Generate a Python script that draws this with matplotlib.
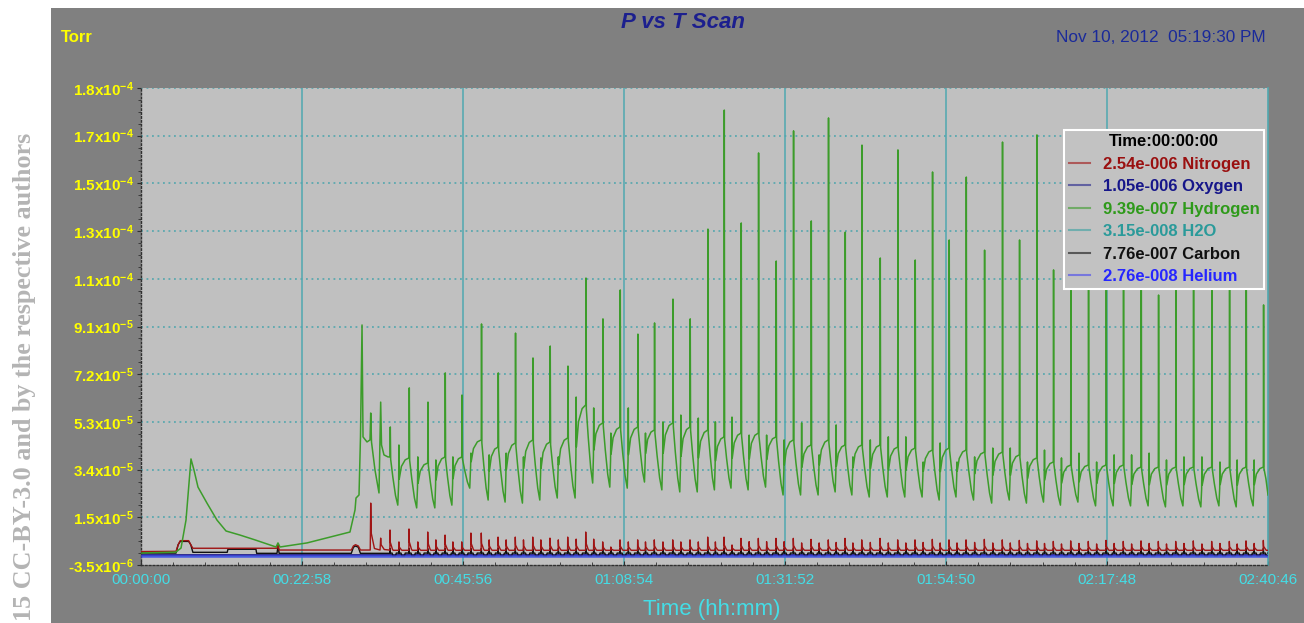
import numpy as np
import matplotlib
matplotlib.use("Agg")
import matplotlib.pyplot as plt
from matplotlib.patches import Rectangle

plt.rcParams['font.family'] = ['Liberation Sans', 'DejaVu Sans']
plt.rcParams['mathtext.fontset'] = 'custom'
plt.rcParams['mathtext.rm'] = 'Liberation Sans:bold'
plt.rcParams['mathtext.default'] = 'rm'

# ---------------- data (time in minutes, pressure in 1e-6 Torr) ----------------
xtick_labels = ["00:00:00", "00:22:58", "00:45:56", "01:08:54",
                "01:31:52", "01:54:50", "02:17:48", "02:40:46"]
ytick_labels = ["-3.5x$10^{-6}$", "1.5x$10^{-5}$", "3.4x$10^{-5}$", "5.3x$10^{-5}$",
                "7.2x$10^{-5}$", "9.1x$10^{-5}$", "1.1x$10^{-4}$", "1.3x$10^{-4}$",
                "1.5x$10^{-4}$", "1.7x$10^{-4}$", "1.8x$10^{-4}$"]
y_min, y_max = -3.5e-6, 1.845e-4
t_end = 160.767

# Hydrogen: start-up part
h2_init_t = [0.00, 4.99, 5.71, 6.42, 7.13, 7.56, 8.13, 9.41, 10.84, 12.13, 14.12, 16.26,
             19.26, 19.54, 19.83, 23.68, 29.81, 30.53, 30.67, 31.10, 31.31, 31.53, 31.67,
             32.24, 32.67, 32.77, 32.88, 33.38, 33.95, 34.19, 34.31, 34.66, 35.23]
h2_init_v = [1.2, 1.6, 3.2, 14.2, 38.3, 33.9, 27.2, 20.9, 14.2, 9.9, 8.3, 6.4,
             3.6, 5.2, 3.6, 5.2, 9.5, 18.2, 22.9, 24.1, 47.0, 91.1, 47.0,
             45.0, 45.8, 56.4, 45.0, 33.9, 24.9, 60.7, 43.8, 39.9, 39.1]
# Hydrogen: pump cycles (time of main burst, burst peak, trough, small burst, level before burst)
cyc_t = [35.52, 38.23, 40.90, 43.37, 45.75, 48.54, 50.93, 53.39, 55.88, 58.34,
         60.87, 63.44, 65.86, 68.33, 70.85, 73.22, 75.85, 78.31, 80.84, 83.17,
         85.59, 88.06, 90.58, 93.05, 95.58, 98.04, 100.43, 102.81, 105.42, 107.94,
         110.41, 112.88, 115.26, 117.69, 120.30, 122.86, 125.29, 127.77, 130.14, 132.62,
         135.13, 137.66, 140.12, 142.65, 145.12, 147.60, 150.11, 152.73, 155.25, 157.63,
         160.10]
cyc_peak = [50.9, 66.3, 60.7, 72.2, 63.5, 91.5, 72.2, 87.9, 78.1, 82.8,
            74.9, 109.6, 93.5, 104.9, 87.5, 91.9, 101.3, 93.5, 128.9, 175.8,
            131.3, 158.9, 116.3, 167.6, 132.1, 172.7, 127.7, 162.0, 117.5, 160.1,
            116.7, 151.4, 124.6, 149.4, 120.6, 163.2, 124.6, 166.0, 112.8, 134.4,
            124.6, 140.4, 128.5, 136.4, 102.9, 132.5, 124.6, 136.4, 120.6, 128.5,
            99.0]
cyc_trough = [20.1, 19.0, 19.0, 20.1, 26.8, 22.1, 21.3, 20.9, 22.1, 22.9,
              22.9, 28.8, 27.2, 26.8, 29.2, 26.1, 25.3, 25.3, 26.1, 26.8,
              26.1, 27.2, 24.1, 24.1, 24.1, 25.3, 24.1, 23.3, 23.3, 23.3,
              23.3, 22.1, 23.3, 22.1, 20.9, 22.1, 20.9, 21.3, 20.1, 21.3,
              19.8, 19.8, 19.8, 19.8, 19.4, 19.8, 19.4, 19.8, 19.4, 19.8,
              24.1]
cyc_small = [43.8, 39.1, 37.9, 39.1, 40.6, 39.9, 40.6, 39.1, 38.7, 39.1,
             62.7, 58.4, 48.5, 58.4, 48.5, 52.9, 55.6, 54.4, 52.9, 54.8,
             47.7, 47.7, 45.8, 52.5, 39.9, 51.7, 39.1, 45.8, 47.0, 47.0,
             37.1, 44.6, 37.1, 39.1, 42.6, 42.6, 37.1, 41.8, 38.7, 40.6,
             37.1, 39.9, 39.9, 40.6, 37.9, 39.1, 39.1, 37.1, 37.9, 37.9]
cyc_level = [39.1, 38.7, 36.7, 39.1, 39.1, 45.8, 43.0, 44.6, 45.8, 45.0,
             46.6, 59.6, 52.5, 50.9, 50.9, 49.7, 52.5, 50.9, 49.7, 47.0,
             48.5, 48.5, 47.0, 45.8, 43.8, 45.8, 43.8, 43.8, 43.8, 43.0,
             42.6, 41.8, 42.6, 41.8, 41.0, 41.0, 39.9, 38.7, 37.1, 35.9,
             35.9, 35.9, 35.9, 35.1, 35.1, 35.1, 35.1, 35.1, 35.1, 35.1,
             35.1]

# Nitrogen
n2_init_t = [0.0, 5.0, 5.3, 5.6, 6.8, 7.1, 7.4, 19.4, 19.55, 19.7, 30.0, 30.3,
             30.6, 31.0, 31.3, 32.7, 32.77, 32.85, 33.3, 34.1, 34.19, 34.25, 34.7, 35.4]
n2_init_v = [1.8, 1.9, 4.5, 6.1, 6.1, 4.5, 3.1, 3.1, 4.7, 2.4, 2.4, 4.0,
             4.5, 4.0, 2.4, 2.4, 20.9, 9.0, 3.0, 2.4, 7.1, 4.5, 2.6, 2.4]
n2_base = 2.3
n2_big = [10.3, 10.7, 9.5, 8.3, 5.6, 9.1, 7.5, 7.5, 7.5, 7.1,
          7.5, 9.5, 5.6, 6.4, 6.4, 6.4, 6.4, 6.4, 7.5, 7.5,
          7.0, 7.0, 7.0, 7.0, 6.6, 6.4, 7.0, 6.4, 7.0, 6.4,
          6.4, 6.6, 6.4, 6.4, 6.6, 6.4, 6.2, 6.0, 5.8, 6.0,
          5.8, 6.2, 5.8, 6.0, 5.8, 5.8, 6.0, 5.8, 5.8, 6.0, 6.2]
n2_small = [5.6, 5.6, 6.4, 5.6, 9.1, 6.4, 6.4, 6.4, 6.4, 6.4,
            6.7, 6.7, 3.6, 5.6, 5.6, 5.6, 5.6, 5.6, 5.6, 4.4,
            5.7, 5.7, 5.7, 5.2, 5.2, 5.4, 5.2, 5.4, 5.2, 5.2,
            5.4, 5.2, 5.2, 5.4, 5.2, 5.2, 5.0, 5.0, 4.8, 5.0,
            4.8, 5.0, 4.8, 5.0, 4.8, 5.0, 4.8, 5.0, 4.8, 5.0]

# Carbon
c_init_t = [0.0, 5.0, 5.3, 5.6, 6.8, 7.1, 7.4, 12.3, 12.4, 16.4, 16.5, 19.4,
            19.55, 19.7, 30.0, 30.3, 30.6, 31.0, 31.3, 35.4]
c_init_v = [1.2, 1.2, 4.5, 5.8, 5.8, 4.5, 1.5, 1.5, 2.7, 2.7, 1.1, 1.1,
            4.0, 1.1, 1.1, 3.5, 4.0, 3.5, 1.1, 1.1]
c_base, c_spike, c_dip = 1.2, 3.0, 0.2

# Oxygen, H2O, Helium (flat)
o2_t, o2_v = [0.0, t_end], [0.6, 0.6]
h2o_t, h2o_v = [0.0, t_end], [0.03, 0.03]
he_t, he_v = [0.0, t_end], [0.03, 0.03]

legend_labels = ["2.54e-006 Nitrogen", "1.05e-006 Oxygen", "9.39e-007 Hydrogen",
                 "3.15e-008 H2O", "7.76e-007 Carbon", "2.76e-008 Helium"]
line_colors = ['#a01414', '#22228c', '#3c9c2a', '#3aa2a2', '#111111', '#4646f0']
text_colors = ['#9a1010', '#16168a', '#2e9a1a', '#2a9a9a', '#101010', '#2626ff']

# ---------------- build polylines ----------------
n = len(cyc_t)
assert len(cyc_peak) == n and len(cyc_trough) == n and len(cyc_level) == n
assert len(cyc_small) == n - 1 and len(n2_big) == n and len(n2_small) == n - 1

gt, gv = list(h2_init_t), list(h2_init_v)
spike_times, n2_heights = [], []
for k in range(n):
    tb = cyc_t[k]
    P = (cyc_t[k + 1] - tb) if k < n - 1 else (tb - cyc_t[k - 1])
    p0, tr, pk = cyc_level[k], cyc_trough[k], cyc_peak[k]
    gt += [tb, tb + 0.015 * P, tb + 0.035 * P, tb + 0.15 * P]
    gv += [p0, pk, p0 - 0.05 * (p0 - tr), p0 - 0.42 * (p0 - tr)]
    spike_times.append(tb); n2_heights.append(n2_big[k])
    if k == n - 1:
        gt.append(t_end); gv.append(tr)
        break
    p1, sm = cyc_level[k + 1], cyc_small[k]
    gt += [tb + 0.29 * P, tb + 0.41 * P, tb + 0.455 * P, tb + 0.47 * P,
           tb + 0.485 * P, tb + 0.6 * P, tb + 0.8 * P]
    gv += [p0 - 0.8 * (p0 - tr), tr, tr + 0.45 * (p1 - tr), sm,
           tr + 0.55 * (p1 - tr), tr + 0.82 * (p1 - tr), tr + 0.96 * (p1 - tr)]
    spike_times.append(tb + 0.47 * P); n2_heights.append(n2_small[k])

rt, rv = list(n2_init_t), list(n2_init_v)
ct, cv = list(c_init_t), list(c_init_v)
for ts, h in zip(spike_times, n2_heights):
    rt += [ts - 0.02, ts, ts + 0.04, ts + 0.35, ts + 0.45]
    rv += [n2_base, h, n2_base + 0.4 * (h - n2_base), n2_base + 0.05 * (h - n2_base), n2_base]
    ct += [ts - 0.02, ts, ts + 0.05, ts + 0.3, ts + 0.4, ts + 0.8, ts + 0.9]
    cv += [c_base, c_spike, c_base, c_base, c_dip, c_dip, c_base]
rt.append(t_end); rv.append(n2_base)
ct.append(t_end); cv.append(c_base)

S = 1e-6
# ---------------- figure ----------------
fig = plt.figure(figsize=(13.04, 6.23), dpi=100)
fig.patch.set_facecolor('white')
fig.add_artist(Rectangle((51 / 1304, 0), 1 - 51 / 1304, 1 - 8 / 623,
                         transform=fig.transFigure, facecolor='#808080',
                         edgecolor='none', zorder=-10))

ax = fig.add_axes([141 / 1304, 1 - 565 / 623, 1127 / 1304, 477 / 623])
ax.set_facecolor('#c0c0c0')

l_h2o, = ax.plot(h2o_t, np.array(h2o_v) * S, color=line_colors[3], lw=1.0, zorder=2)
l_o2, = ax.plot(o2_t, np.array(o2_v) * S, color=line_colors[1], lw=1.3, zorder=2)
l_c, = ax.plot(ct, np.array(cv) * S, color=line_colors[4], lw=1.0, zorder=3)
l_he, = ax.plot(he_t, np.array(he_v) * S, color=line_colors[5], lw=2.0, alpha=0.7, zorder=4)
l_n2, = ax.plot(rt, np.array(rv) * S, color=line_colors[0], lw=1.0, zorder=5)
l_h2, = ax.plot(gt, np.array(gv) * S, color=line_colors[2], lw=1.1, zorder=6)

ax.set_xlim(0, t_end)
ax.set_ylim(y_min, y_max)

xt = np.arange(len(xtick_labels)) * t_end / (len(xtick_labels) - 1)
ax.set_xticks(xt)
ax.set_xticklabels(xtick_labels, color='#44dde6', fontsize=11)
ax.set_xticks(np.arange(0, 35) * t_end / 35, minor=True)
yt = np.linspace(y_min, y_max, len(ytick_labels))
ax.set_yticks(yt)
ax.set_yticklabels(ytick_labels, color='#ffff00', fontsize=11, fontweight='bold')
ax.set_yticks(np.linspace(y_min, y_max, 41), minor=True)
ax.tick_params(axis='x', which='major', length=3, direction='in', color='#303030', pad=6)
ax.tick_params(axis='x', which='minor', length=2, direction='in', color='#303030')
ax.tick_params(axis='y', which='major', length=3, direction='out', color='#303030', pad=2)
ax.tick_params(axis='y', which='minor', length=2, direction='out', color='#303030')

for y in yt[1:]:
    ax.axhline(y, color='#4aa4ac', lw=1.1, ls=(0, (1.2, 2.4)), zorder=1)
for x in xt[1:-1]:
    ax.axvline(x, color='#4fa8b0', lw=1.1, zorder=1)

for side in ['left', 'bottom']:
    ax.spines[side].set_color('#303030')
    ax.spines[side].set_linestyle((0, (1.2, 1.6)))
    ax.spines[side].set_linewidth(1.0)
ax.spines['top'].set_visible(False)
ax.spines['right'].set_color('#4fa8b0')
ax.spines['right'].set_linewidth(1.2)

leg = ax.legend([l_n2, l_o2, l_h2, l_h2o, l_c, l_he], legend_labels,
                loc='upper right', bbox_to_anchor=(0.9965, 0.912), borderaxespad=0,
                prop={'weight': 'bold', 'size': 12}, labelcolor=text_colors,
                title='Time:00:00:00', title_fontproperties={'weight': 'bold', 'size': 12},
                frameon=True, fancybox=False, facecolor='#c2c2c2', edgecolor='white',
                framealpha=1.0, handlelength=1.3, handletextpad=0.75, labelspacing=0.45,
                borderpad=0.26)
leg.get_frame().set_linewidth(1.5)
leg.set_zorder(10)
for h in leg.get_lines():
    h.set_alpha(0.6)
    h.set_linewidth(1.5)

fig.text(683 / 1304, 1 - 23 / 623, 'P vs T Scan', ha='center', va='center',
         fontsize=16, fontweight='bold', fontstyle='italic', color='#1c1f8e')
fig.text(1056 / 1304, 1 - 37 / 623, 'Nov 10, 2012  05:19:30 PM', ha='left', va='center',
         fontsize=12.4, color='#1a2a9a')
fig.text(61 / 1304, 1 - 38 / 623, 'Torr', ha='left', va='center',
         fontsize=12, fontweight='bold', color='#ffff00')
fig.text(712 / 1304, 1 - 609 / 623, 'Time (hh:mm)', ha='center', va='center',
         fontsize=16, color='#44dde6')
fig.text(25 / 1304, 0.003, '15 CC-BY-3.0 and by the respective authors', rotation=90,
         ha='center', va='bottom', fontsize=18.8, fontweight='bold',
         family='Liberation Serif', color='#b4b4b4')

fig.savefig('out.png', dpi=100, facecolor=fig.get_facecolor())
